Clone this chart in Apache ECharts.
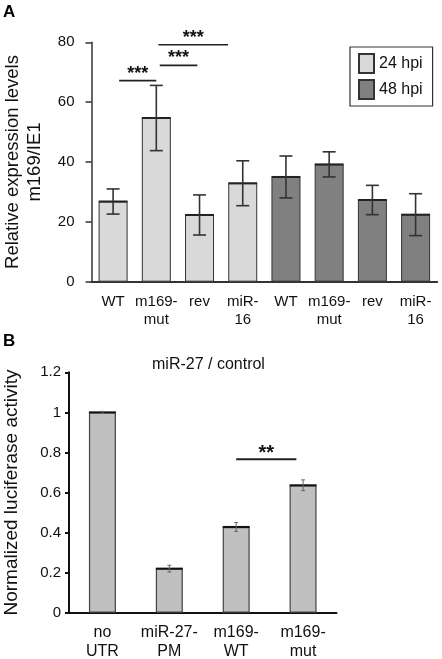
<!DOCTYPE html>
<html>
<head>
<meta charset="utf-8">
<script src="https://cdn.jsdelivr.net/npm/echarts@6/dist/echarts.min.js"></script>
<style>html,body{margin:0;padding:0;background:#fff}#c{width:442px;height:659px}</style>
</head>
<body>
<div id="c"></div>
<script>
// ---- Panel A data ----
var categoriesA = ['WT', 'm169-\nmut', 'rev', 'miR-\n16', 'WT', 'm169-\nmut', 'rev', 'miR-\n16'];
var seriesNamesA = ['24 hpi', '48 hpi'];
var values24 = [26.8, 54.7, 22.3, 32.9];
var errors24 = [4.2, 10.9, 6.7, 7.5];
var values48 = [35.0, 39.2, 27.3, 22.4];
var errors48 = [7.0, 4.2, 4.9, 7.0];
var ticksA = [0, 20, 40, 60, 80];
// significance brackets: [from (category units), to (category units), height (data units)]
var sigA = [[0.14, 1.0, 67.2], [1.08, 1.95, 72.3], [1.05, 2.66, 79.2]];
var sigLabelsA = ['***', '***', '***'];

// ---- Panel B data ----
var categoriesB = ['no\nUTR', 'miR-27-\nPM', 'm169-\nWT', 'm169-\nmut'];
var valuesB = [1.0, 0.22, 0.428, 0.636];
var errorsB = [0.005, 0.017, 0.022, 0.027];
var ticksB = [0, 0.2, 0.4, 0.6, 0.8, 1.0, 1.2];
var sigB = [[2.0, 2.9, 0.766]];
var sigLabelsB = ['**'];

var FONT = '"Liberation Sans", Arial, sans-serif';
var chart = echarts.init(document.getElementById('c'), null, {renderer: 'canvas'});

var n24 = values24.length;
var data24 = categoriesA.map(function (c, i) { return i < n24 ? values24[i] : '-'; });
var data48 = categoriesA.map(function (c, i) { return i >= n24 ? values48[i - n24] : '-'; });
var errDataA = [];
values24.forEach(function (v, i) { errDataA.push([i, v, errors24[i]]); });
values48.forEach(function (v, i) { errDataA.push([i + n24, v, errors48[i]]); });
var errDataB = valuesB.map(function (v, i) { return [i, v, errorsB[i]]; });

function errRender(opt) {
  return function (params, api) {
    var i = api.value(0), v = api.value(1), e = api.value(2);
    var top = api.coord([i, v + e]);
    var bot = api.coord([i, v - e]);
    var mid = api.coord([i, v]);
    var st = {stroke: opt.color, lineWidth: opt.lw};
    return {
      type: 'group',
      children: [
        {type: 'line', shape: {x1: mid[0] - opt.bw / 2, y1: mid[1], x2: mid[0] + opt.bw / 2, y2: mid[1]}, style: {stroke: opt.edge, lineWidth: opt.edgeW}},
        {type: 'line', shape: {x1: top[0], y1: top[1], x2: bot[0], y2: bot[1]}, style: st},
        {type: 'line', shape: {x1: top[0] - opt.cap, y1: top[1], x2: top[0] + opt.cap, y2: top[1]}, style: st},
        {type: 'line', shape: {x1: bot[0] - opt.cap, y1: bot[1], x2: bot[0] + opt.cap, y2: bot[1]}, style: st}
      ]
    };
  };
}
function sigRender(labels, opt) {
  return function (params, api) {
    var p1 = api.coord([api.value(0), api.value(2)]);
    var p2 = api.coord([api.value(1), api.value(2)]);
    return {
      type: 'group',
      children: [
        {type: 'line', shape: {x1: p1[0], y1: p1[1], x2: p2[0], y2: p2[1]}, style: {stroke: opt.color, lineWidth: opt.lw}},
        {type: 'text', x: (p1[0] + p2[0]) / 2, y: p1[1] - opt.dy, style: {text: labels[params.dataIndex], fill: '#111', font: opt.font, align: 'center', verticalAlign: 'middle'}}
      ]
    };
  };
}

var option = {
  animation: false,
  backgroundColor: '#fff',
  textStyle: {fontFamily: FONT},
  title: {
    text: 'miR-27 / control', left: 152, top: 357, padding: 0,
    textStyle: {fontFamily: FONT, fontSize: 16, fontWeight: 'normal', color: '#111'}
  },
  legend: {
    data: seriesNamesA, orient: 'vertical', left: 350, top: 47,
    padding: [6, 10, 6, 8], itemGap: 5, itemWidth: 15, itemHeight: 19, icon: 'rect',
    borderColor: '#333', borderWidth: 1.2,
    textStyle: {fontFamily: FONT, fontSize: 16, color: '#111'}
  },
  graphic: [
    {type: 'text', left: 3, top: 4, style: {text: 'A', font: 'bold 17px ' + FONT, fill: '#000'}},
    {type: 'text', left: 3, top: 333, style: {text: 'B', font: 'bold 17px ' + FONT, fill: '#000'}}
  ],
  grid: [
    {left: 91.5, top: 42.3, width: 345.7, height: 239.4, containLabel: false, outerBoundsMode: 'none'},
    {left: 69, top: 372.3, width: 267.5, height: 240.4, containLabel: false, outerBoundsMode: 'none'}
  ],
  xAxis: [
    {gridIndex: 0, type: 'category', data: categoriesA,
      axisLine: {onZero: false, lineStyle: {color: '#333', width: 2}},
      axisTick: {alignWithLabel: true, length: 6, lineStyle: {color: '#333', width: 1.5}},
      axisLabel: {interval: 0, fontSize: 15, lineHeight: 18, margin: 11, color: '#111', fontFamily: FONT}},
    {gridIndex: 0, type: 'value', min: -0.5, max: 7.5, show: false},
    {gridIndex: 1, type: 'category', data: categoriesB,
      axisLine: {onZero: false, lineStyle: {color: '#111', width: 2}},
      axisTick: {alignWithLabel: true, length: 6, lineStyle: {color: '#111', width: 1.5}},
      axisLabel: {interval: 0, fontSize: 16, lineHeight: 19, margin: 10, color: '#111', fontFamily: FONT}},
    {gridIndex: 1, type: 'value', min: -0.5, max: 3.5, show: false}
  ],
  yAxis: [
    {gridIndex: 0, type: 'value', min: ticksA[0], max: ticksA[ticksA.length - 1], interval: ticksA[1] - ticksA[0],
      name: 'Relative expression levels\nm169/IE1', nameLocation: 'middle', nameGap: 68, nameRotate: 90,
      nameTextStyle: {fontSize: 18.5, lineHeight: 22, color: '#111', align: 'center', verticalAlign: 'middle', fontFamily: FONT},
      axisLine: {show: true, onZero: false, lineStyle: {color: '#333', width: 1.5}},
      axisTick: {show: true, length: 6, lineStyle: {color: '#333', width: 1.5}},
      splitLine: {show: false},
      axisLabel: {fontSize: 15, margin: 17, color: '#111', fontFamily: FONT}},
    {gridIndex: 1, type: 'value', min: ticksB[0], max: ticksB[ticksB.length - 1], interval: 0.2,
      name: 'Normalized luciferase activity', nameLocation: 'middle', nameGap: 57, nameRotate: 90,
      nameTextStyle: {fontSize: 19, color: '#111', align: 'center', verticalAlign: 'middle', fontFamily: FONT},
      axisLine: {show: true, onZero: false, lineStyle: {color: '#111', width: 2}},
      axisTick: {show: true, length: 4, lineStyle: {color: '#111', width: 2}},
      splitLine: {show: false},
      axisLabel: {fontSize: 15, margin: 8, color: '#111', fontFamily: FONT,
        formatter: function (v) { return String(Math.round(v * 10) / 10); }}}
  ],
  series: [
    {name: seriesNamesA[0], type: 'bar', xAxisIndex: 0, yAxisIndex: 0, data: data24, barWidth: 29, barGap: '-100%',
      itemStyle: {color: '#d9d9d9', borderColor: '#333', borderWidth: 1}},
    {name: seriesNamesA[1], type: 'bar', xAxisIndex: 0, yAxisIndex: 0, data: data48, barWidth: 29, barGap: '-100%',
      itemStyle: {color: '#808080', borderColor: '#333', borderWidth: 1}},
    {name: 'errA', type: 'custom', xAxisIndex: 0, yAxisIndex: 0, data: errDataA, z: 5, silent: true,
      renderItem: errRender({color: '#333', lw: 1.6, cap: 6.5, bw: 29, edge: '#222', edgeW: 2})},
    {name: 'sigA', type: 'custom', xAxisIndex: 1, yAxisIndex: 0, data: sigA, z: 5, silent: true, clip: false,
      renderItem: sigRender(sigLabelsA, {color: '#222', lw: 1.6, dy: 7, font: 'bold 18px ' + FONT})},
    {name: 'luciferase', type: 'bar', xAxisIndex: 2, yAxisIndex: 1, data: valuesB, barWidth: 27,
      itemStyle: {color: '#c0c0c0', borderColor: '#444', borderWidth: 1.2}},
    {name: 'errB', type: 'custom', xAxisIndex: 2, yAxisIndex: 1, data: errDataB, z: 5, silent: true,
      renderItem: errRender({color: '#666', lw: 1, cap: 2, bw: 27, edge: '#111', edgeW: 2})},
    {name: 'sigB', type: 'custom', xAxisIndex: 3, yAxisIndex: 1, data: sigB, z: 5, silent: true, clip: false,
      renderItem: sigRender(sigLabelsB, {color: '#222', lw: 2, dy: 6, font: 'bold 20px ' + FONT})}
  ]
};
chart.setOption(option);
</script>
</body>
</html>
